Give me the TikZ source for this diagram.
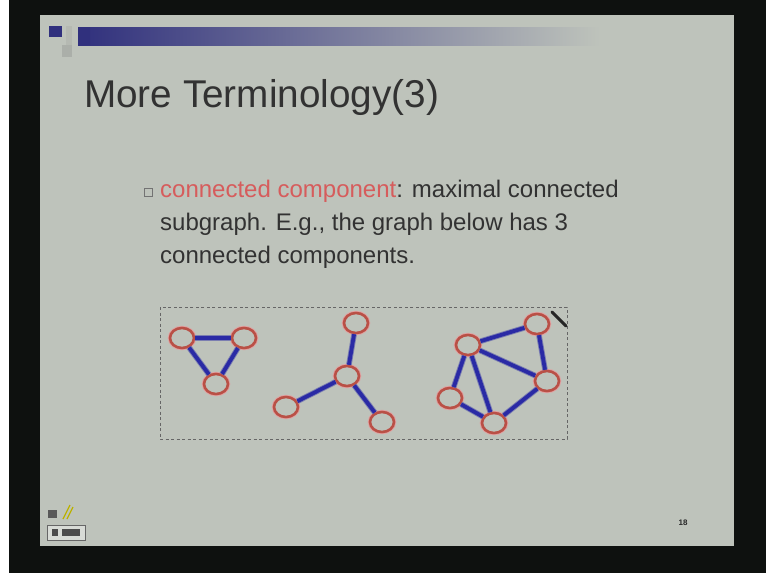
\documentclass[tikz,border=0pt]{standalone}
\usepackage{fontspec}
\setmainfont{Liberation Sans}
\usetikzlibrary{shapes.geometric}

\definecolor{slidebg}{RGB}{190,195,187}
\definecolor{frameblk}{RGB}{14,17,15}
\definecolor{navy}{RGB}{48,48,125}
\definecolor{txtgrey}{RGB}{50,50,50}
\definecolor{keyred}{RGB}{214,92,92}
\definecolor{edgeblue}{RGB}{42,42,165}
\definecolor{ringred}{RGB}{185,80,70}
\definecolor{ringhalo}{RGB}{225,160,160}

\tikzset{
  vtx/.style={ellipse, minimum width=24pt, minimum height=20pt, inner sep=0pt,
    fill=slidebg, draw=ringred, line width=2.6pt,
    preaction={draw=ringhalo, line width=4.4pt}},
  lnk/.style={draw=edgeblue, line width=3.8pt,
    preaction={draw=edgeblue!45!slidebg, line width=5.6pt}},
  bodytext/.style={anchor=base west, inner sep=0pt, text=txtgrey,
    font=\fontsize{24}{28}\selectfont},
}

\begin{document}
\begin{tikzpicture}[x=1pt, y=-1pt]
  \useasboundingbox (0,0) rectangle (766,573);

  % projector frame and slide area
  \fill[frameblk] (0,0) rectangle (766,573);
  \fill[white] (0,0) rectangle (9,573);
  \fill[slidebg] (40,15) rectangle (734,546);

  % header decoration: pixel squares and fading bar
  \fill[navy] (49,26) rectangle (62,37);
  \fill[slidebg!70!gray] (62,45) rectangle (72,57);
  \fill[slidebg!85!gray] (66,26) rectangle (72,45);
  \shade[left color=navy, right color=slidebg, shading angle=90]
    (78,27) rectangle (600,45);
  \fill[navy] (78,27) rectangle (90,45);

  % title
  \node[anchor=base west, inner sep=0pt, text=txtgrey,
        font=\fontsize{38.7}{42}\selectfont] (title) at (84,107) {More Terminology(3)};

  % bullet item
  \node[draw=gray!90!black, line width=0.7pt, minimum size=8pt, inner sep=0pt]
    (bullet) at (148,192) {};
  \node[bodytext] (line1) at (160,197)
    {\textcolor{keyred}{connected component}: maximal connected};
  \node[bodytext] (line2) at (160,230) {subgraph. E.g., the graph below has 3};
  \node[bodytext] (line3) at (160,263) {connected components.};

  % dashed frame around the graph
  \draw[gray!80!black, line width=0.8pt, dash pattern=on 3pt off 2.5pt]
    (160,307) rectangle (567,439);

  % first component: triangle
  \node[vtx] (a1) at (182,338) {};
  \node[vtx] (a2) at (244,338) {};
  \node[vtx] (a3) at (216,384) {};
  \draw[lnk] (a1) -- (a2);
  \draw[lnk] (a1) -- (a3);
  \draw[lnk] (a2) -- (a3);

  % second component: star
  \node[vtx] (b0) at (347,376) {};
  \node[vtx] (b1) at (356,323) {};
  \node[vtx] (b2) at (286,407) {};
  \node[vtx] (b3) at (382,422) {};
  \draw[lnk] (b0) -- (b1);
  \draw[lnk] (b0) -- (b2);
  \draw[lnk] (b0) -- (b3);

  % third component
  \node[vtx] (c1) at (468,345) {};
  \node[vtx] (c2) at (537,324) {};
  \node[vtx] (c3) at (547,381) {};
  \node[vtx] (c4) at (450,398) {};
  \node[vtx] (c5) at (494,423) {};
  \draw[lnk] (c1) -- (c2);
  \draw[lnk] (c2) -- (c3);
  \draw[lnk] (c1) -- (c3);
  \draw[lnk] (c1) -- (c4);
  \draw[lnk] (c1) -- (c5);
  \draw[lnk] (c4) -- (c5);
  \draw[lnk] (c3) -- (c5);

  % pen cursor
  \coordinate (penA) at (552,312);
  \coordinate (penB) at (566,326);
  \draw[gray!30!black, line width=3pt, line cap=round] (penA) -- (penB);

  % footer: navigation icon and page number
  \fill[gray!70!black] (48,510) rectangle (57,518);
  \draw[olive!60!yellow, line width=1.2pt] (63,519) -- (70,505);
  \draw[olive!60!yellow, line width=1.2pt] (67,519) -- (73,507);
  \draw[gray!80!black, line width=0.8pt, fill=slidebg!60!white] (47,525) rectangle (85,540);
  \fill[gray!60!black] (52,529) rectangle (58,536);
  \fill[gray!60!black] (62,529) rectangle (80,536);
  \node[anchor=center, inner sep=0pt, text=txtgrey!80!black,
        font=\bfseries\fontsize{8}{9}\selectfont] (pageno) at (683,523) {18};
\end{tikzpicture}
\end{document}
